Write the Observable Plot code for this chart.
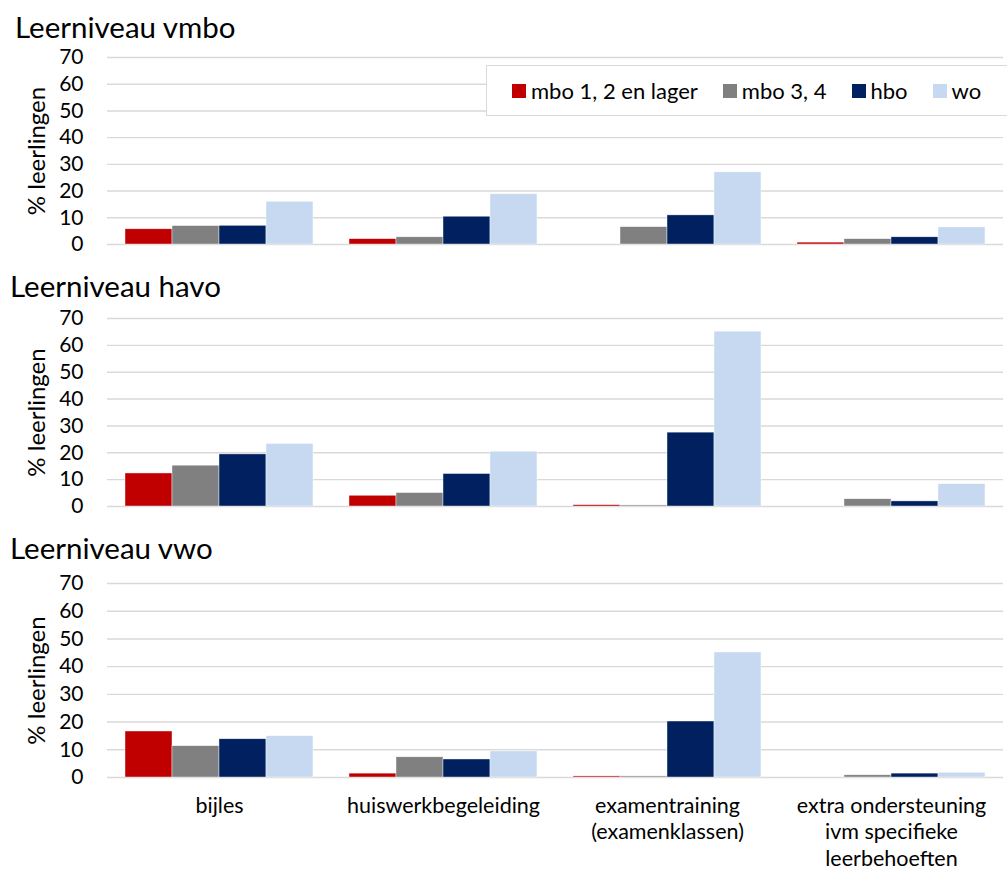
<!DOCTYPE html>
<html>
<head>
<meta charset="utf-8">
<script src="https://cdn.jsdelivr.net/npm/d3@7"></script>
<script src="https://cdn.jsdelivr.net/npm/@observablehq/plot@0.6"></script>
<style>
  html, body { margin: 0; padding: 0; background: #fff; }
  #root { position: relative; width: 1007px; height: 875px; overflow: hidden; font-family: Lato, "Open Sans", sans-serif; color: #000; }
  .title { position: absolute; font-size: 29.5px; line-height: 0.7; white-space: nowrap; }
  .panel { position: absolute; left: 0; }
  #legend { position: absolute; left: 486px; top: 65px; width: 510px; height: 49px; border: 1.5px solid #D9D9D9; background: #fff;
            display: flex; align-items: center; padding-left: 25px; box-sizing: content-box; }
  #legend .item { display: flex; align-items: center; margin-right: 25px; font-size: 22px; white-space: nowrap; }
  #legend .sw { width: 14px; height: 14px; margin-right: 5px; }
</style>
</head>
<body>
<div id="root"></div>
<script>
// ---------- data ----------
const categories = [
  "bijles",
  "huiswerkbegeleiding",
  "examentraining\n(examenklassen)",
  "extra ondersteuning\nivm specifieke\nleerbehoeften"
];
const series = ["mbo 1, 2 en lager", "mbo 3, 4", "hbo", "wo"];
const panelTitles = ["Leerniveau vmbo", "Leerniveau havo", "Leerniveau vwo"];
const yTicks = [0, 10, 20, 30, 40, 50, 60, 70];
const yLabel = "% leerlingen";

// values per series (rows) over categories (columns)
const vmboValues = [
  [5.7, 2.0, 0, 0.7],
  [6.9, 2.7, 6.5, 2.0],
  [7.0, 10.4, 10.9, 2.7],
  [16.0, 18.8, 27.0, 6.4]
];
const havoValues = [
  [12.3, 4.0, 0.5, 0],
  [15.2, 5.0, 0.4, 2.7],
  [19.4, 12.1, 27.5, 1.9],
  [23.3, 20.4, 65.1, 8.3]
];
const vwoValues = [
  [16.6, 1.4, 0.4, 0],
  [11.3, 7.3, 0.4, 0.8],
  [13.8, 6.5, 20.2, 1.4],
  [14.9, 9.4, 45.1, 1.7]
];

const colors = ["#C00000", "#808080", "#002060", "#C6D9F0"];

// ---------- drawing ----------
function toRows(values) {
  const rows = [];
  series.forEach((s, i) => categories.forEach((c, j) => rows.push({category: c, series: s, value: values[i][j]})));
  return rows;
}

function panel(values, opts) {
  const marks = [
    Plot.gridY(yTicks, {stroke: "#D9D9D9", strokeOpacity: 1, strokeWidth: 1.4}),
    Plot.axisY(yTicks, {tickSize: 0, tickPadding: 24, fontSize: 21, label: null}),
    Plot.text([yLabel], {fx: () => categories[0], text: d => d, frameAnchor: "left", rotate: -90, dx: -70, fontSize: 24, textAnchor: "middle"}),
    Plot.barY(toRows(values), {fx: "category", x: "series", y: "value", fill: "series", stroke: "#fff", strokeWidth: 0.6, strokeOpacity: 0.7})
  ];
  if (opts.showFx) {
    marks.push(Plot.axisFx({anchor: "bottom", tickSize: 0, tickPadding: 16, fontSize: 21.5, lineHeight: 1.25, label: null}));
  }
  return Plot.plot({
    width: 1007,
    height: opts.height,
    marginLeft: 107,
    marginRight: 4,
    marginTop: 10,
    marginBottom: opts.marginBottom,
    style: {fontFamily: "Lato, 'Open Sans', sans-serif", fontSize: "21px", color: "#000", background: "transparent", overflow: "visible"},
    fx: {domain: categories, padding: 0, label: null, axis: null},
    x: {domain: series, paddingInner: 0, paddingOuter: 0.37, axis: null},
    y: {domain: [0, 70], axis: null},
    color: {domain: series, range: colors},
    marks
  });
}

const root = document.getElementById("root");
const layout = [
  {values: vmboValues, svgTop: 47, height: 203, marginBottom: 6, showFx: false, titleLeft: 15, titleTop: 17},
  {values: havoValues, svgTop: 308, height: 204, marginBottom: 6, showFx: false, titleLeft: 10, titleTop: 276},
  {values: vwoValues, svgTop: 573, height: 299, marginBottom: 95, showFx: true, titleLeft: 10, titleTop: 538}
];
layout.forEach((L, k) => {
  const t = document.createElement("div");
  t.className = "title";
  t.style.left = L.titleLeft + "px";
  t.style.top = L.titleTop + "px";
  t.textContent = panelTitles[k];
  root.appendChild(t);
  const wrap = document.createElement("div");
  wrap.className = "panel";
  wrap.style.top = L.svgTop + "px";
  wrap.appendChild(panel(L.values, L));
  root.appendChild(wrap);
});

// legend
const legend = document.createElement("div");
legend.id = "legend";
series.forEach((s, i) => {
  const it = document.createElement("div");
  it.className = "item";
  const sw = document.createElement("div");
  sw.className = "sw";
  sw.style.background = colors[i];
  const tx = document.createElement("span");
  tx.textContent = s;
  it.appendChild(sw);
  it.appendChild(tx);
  legend.appendChild(it);
});
root.appendChild(legend);
</script>
</body>
</html>
